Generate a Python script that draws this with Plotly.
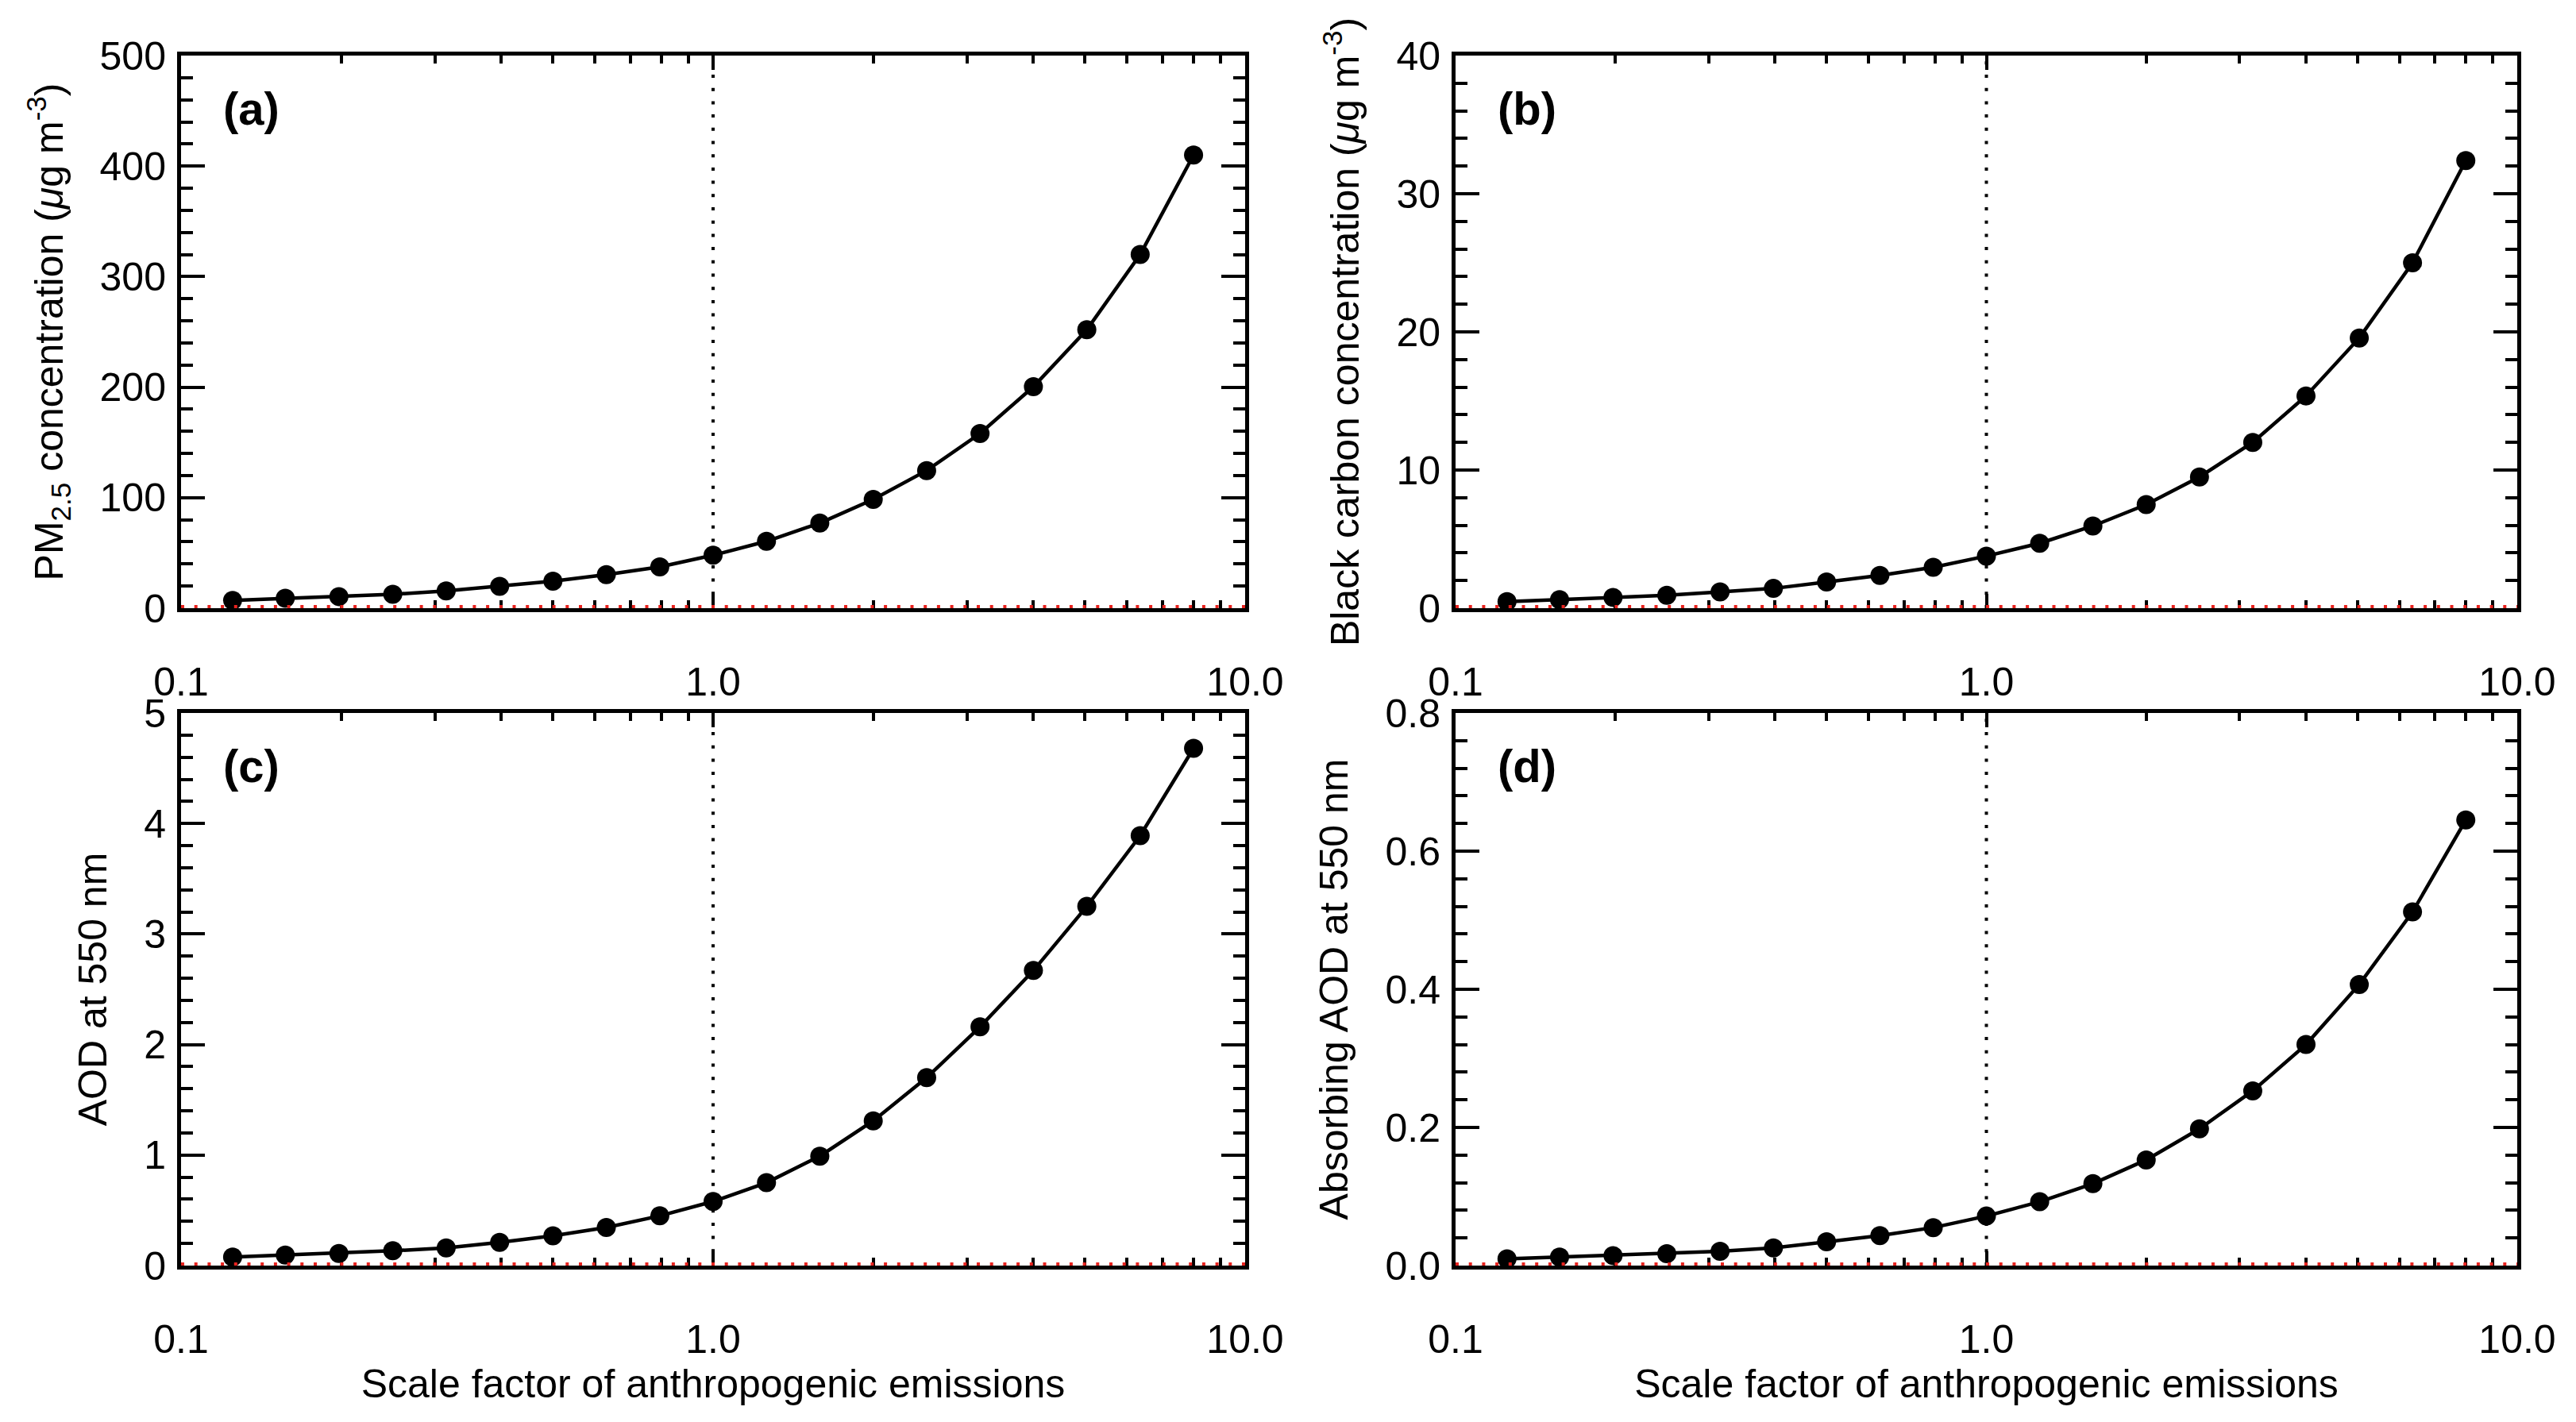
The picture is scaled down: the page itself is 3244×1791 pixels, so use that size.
import plotly.graph_objects as go
from plotly.subplots import make_subplots

# scale factor applied to anthropogenic emissions (x of every panel)
scale_factor = [0.125, 0.157, 0.198, 0.25, 0.315, 0.397, 0.5, 0.63, 0.794, 1.0,
                1.26, 1.587, 2.0, 2.52, 3.175, 4.0, 5.04, 6.35, 8.0]

pm25 = [7.0, 9.0, 10.5, 12.5, 15.6, 19.8, 24.5, 30.4, 37.4, 47.9,
        60.5, 77.0, 98.4, 124.5, 158.0, 200.4, 252.0, 320.0, 410.0]
black_carbon = [0.47, 0.62, 0.78, 0.93, 1.18, 1.43, 1.9, 2.37, 2.96, 3.77,
                4.7, 5.95, 7.5, 9.5, 12.0, 15.36, 19.56, 25.0, 32.4]
aod_550 = [0.078, 0.095, 0.11, 0.134, 0.16, 0.21, 0.27, 0.345, 0.45, 0.58,
           0.75, 0.99, 1.31, 1.70, 2.16, 2.67, 3.25, 3.89, 4.68]
aaod_550 = [0.0097, 0.0124, 0.0145, 0.0172, 0.0207, 0.0255, 0.0345, 0.0434, 0.055, 0.0717,
            0.0924, 0.1186, 0.153, 0.198, 0.253, 0.32, 0.407, 0.512, 0.645]

x_tickvals = [0.1, 1.0, 10.0]
x_ticktext = ["0.1", "1.0", "10.0"]
x_minorvals = [0.2, 0.3, 0.4, 0.5, 0.6, 0.7, 0.8, 0.9, 2, 3, 4, 5, 6, 7, 8, 9]
x_title = "Scale factor of anthropogenic emissions"

panels = [
    # row, col, values, label, y title, y max, major step, minor step, format
    (1, 1, pm25, "(a)", "PM<sub>2.5</sub> concentration (<i>μ</i>g m<sup>-3</sup>)", 500, 100, 20, "d"),
    (1, 2, black_carbon, "(b)", "Black carbon concentration (<i>μ</i>g m<sup>-3</sup>)", 40, 10, 2, "d"),
    (2, 1, aod_550, "(c)", "AOD at 550 nm", 5, 1, 0.2, "d"),
    (2, 2, aaod_550, "(d)", "Absorbing AOD at 550 nm", 0.8, 0.2, 0.04, ".1f"),
]

W, H = 3244, 1791
OFF = 8  # page body margin
x_domains = {1: [(228 - OFF) / W, (1568 - OFF) / W], 2: [(1833 - OFF) / W, (3170 - OFF) / W]}
y_domains = {1: [1 - (766 - OFF) / H, 1 - (70 - OFF) / H],
             2: [1 - (1594 - OFF) / H, 1 - (898 - OFF) / H]}

FONT = "Liberation Sans, Arial, Helvetica, sans-serif"

fig = make_subplots(rows=2, cols=2)

for n, (row, col, vals, label, ytitle, ymax, dtick, mstep, fmt) in enumerate(panels, start=1):
    fig.add_trace(go.Scatter(x=scale_factor, y=vals, mode="lines+markers",
                             line=dict(color="black", width=4.5),
                             marker=dict(color="black", size=24),
                             cliponaxis=False, showlegend=False),
                  row=row, col=col)

    fig.update_xaxes(type="log", range=[-1, 1], domain=x_domains[col], automargin=False,
                     tickmode="array", tickvals=x_tickvals, ticktext=x_ticktext,
                     ticks="inside", ticklen=18, tickwidth=4, tickcolor="black",
                     minor=dict(tickmode="array", tickvals=x_minorvals, ticks="inside",
                                ticklen=10, tickwidth=4, tickcolor="black"),
                     showline=True, linewidth=5, linecolor="black", mirror="ticks",
                     showgrid=False, zeroline=False, ticklabelstandoff=45,
                     tickfont=dict(size=50, color="black", family=FONT),
                     row=row, col=col)
    if row == 2:
        fig.update_xaxes(title=dict(text=x_title, standoff=9,
                                    font=dict(size=50, color="black", family=FONT)),
                         row=row, col=col)

    fig.update_yaxes(range=[0, ymax], domain=y_domains[row], automargin=False,
                     tick0=0, dtick=dtick, tickformat=fmt,
                     ticks="inside", ticklen=30, tickwidth=4, tickcolor="black",
                     minor=dict(tick0=0, dtick=mstep, ticks="inside", ticklen=15,
                                tickwidth=4, tickcolor="black"),
                     showline=True, linewidth=5, linecolor="black", mirror="ticks",
                     showgrid=False, zeroline=False, ticklabelstandoff=4,
                     tickfont=dict(size=50, color="black", family=FONT),
                     title=dict(text=ytitle, standoff=32,
                                font=dict(size=50, color="black", family=FONT)),
                     row=row, col=col)

    xref = "x" if n == 1 else f"x{n}"
    yref = "y" if n == 1 else f"y{n}"

    # dotted reference line at scale factor 1
    fig.add_shape(type="line", xref=xref, yref=f"{yref} domain", x0=1, x1=1, y0=0, y1=1,
                  line=dict(color="black", width=4, dash="4px,12.7px"), layer="below")
    # red dotted zero line (half of it is clipped by the plot area)
    fig.add_shape(type="line", xref=f"{xref} domain", yref=yref, x0=0, x1=1, y0=0, y1=0,
                  line=dict(color="#e8231f", width=8, dash="4px,12.7px"), layer="above")

    fig.add_annotation(text=f"<b>{label}</b>", xref=f"{xref} domain", yref=f"{yref} domain",
                       x=0.038, y=0.905, xanchor="left", yanchor="middle", showarrow=False,
                       font=dict(size=58, color="black", family=FONT))

fig.update_layout(width=W, height=H, margin=dict(l=0, r=0, t=0, b=0),
                  paper_bgcolor="white", plot_bgcolor="white",
                  font=dict(family=FONT, color="black"))

fig.write_html("out.html")
